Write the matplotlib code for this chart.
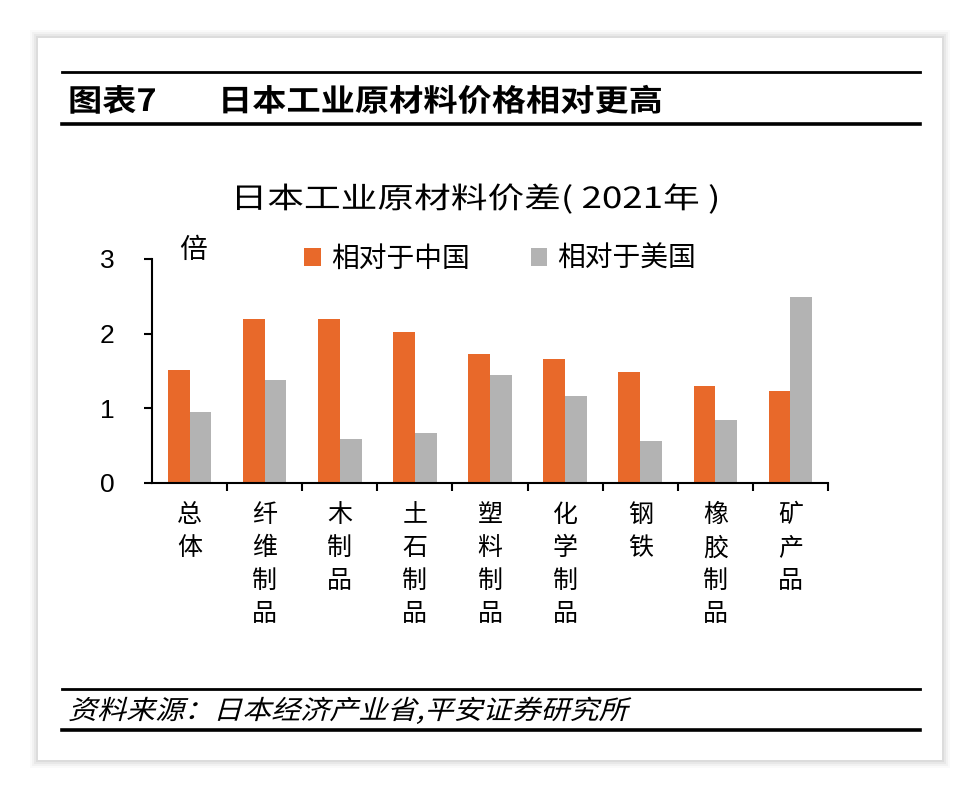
import matplotlib.pyplot as plt
import numpy as np
from matplotlib.patches import Rectangle, PathPatch
from matplotlib.textpath import TextPath
from matplotlib.font_manager import FontProperties
from matplotlib.transforms import Affine2D

plt.rcParams['font.family'] = ['Noto Sans CJK SC', 'DejaVu Sans']

categories = ['总体', '纤维制品', '木制品', '土石制品', '塑料制品', '化学制品', '钢铁', '橡胶制品', '矿产品']
vs_china = [1.51, 2.20, 2.20, 2.02, 1.73, 1.66, 1.49, 1.30, 1.23]
vs_usa = [0.95, 1.38, 0.59, 0.67, 1.45, 1.16, 0.56, 0.84, 2.49]
series_names = ['相对于中国', '相对于美国']
yticks = [0, 1, 2, 3]

W, H = 980, 798
fig = plt.figure(figsize=(W / 100, H / 100), dpi=100)
fig.patch.set_facecolor('white')

def px(x, y):
    # pixel coords (top-left origin) -> figure fraction
    return x / W, 1 - y / H

def path_text(s, x, y, size, sx=1.0, skew=0.0, weight='normal', width=None):
    # text drawn as a path so it can be stretched / slanted; (x, y) = left baseline in px
    # if width is given, x is the centre and the text is stretched to that pixel width
    fp = FontProperties(family='Noto Sans CJK SC', weight=weight)
    tp = TextPath((0, 0), s, size=size, prop=fp)
    if width is not None:
        ext = tp.get_extents()
        sx = width / (ext.width / 72 * 100)
        x = x - width / 2 - ext.x0 / 72 * 100 * sx
    tr = (Affine2D().skew_deg(skew, 0).scale(sx / 72, 1 / 72)
          .translate(x / 100, (H - y) / 100) + fig.dpi_scale_trans)
    fig.patches.append(PathPatch(tp, transform=tr, facecolor='black', edgecolor='none', zorder=3))

# card shadow + card
for i, a in enumerate([0.02, 0.03, 0.04, 0.05]):
    d = 8 - 2 * i
    x0, y0 = px(38 - d, 760 + d)
    fig.patches.append(Rectangle((x0, y0), (904 + 2 * d) / W, (722 + 2 * d) / H,
                                 transform=fig.transFigure, facecolor='black',
                                 alpha=a, edgecolor='none', zorder=0))
x0, y0 = px(38, 760)
fig.patches.append(Rectangle((x0, y0), 904 / W, 722 / H, transform=fig.transFigure,
                             facecolor='white', edgecolor='none', zorder=1))

# header / footer rules
for yy, lw in [(72, 2.0), (124, 2.6), (689, 2.0), (730, 2.6)]:
    fig.add_artist(plt.Line2D([62 / W, 920 / W], [1 - yy / H] * 2, color='black',
                              lw=lw, transform=fig.transFigure, zorder=2))

path_text('图表7', 68, 111, 22, sx=1.12, weight='bold')
path_text('日本工业原材料价格相对更高', 218, 111, 22, sx=1.12, weight='bold')
path_text('资料来源：日本经济产业省,平安证券研究所', 68, 719, 19, sx=1.1, skew=14)
path_text('日本工业原材料价差( 2021年 )', 477, 208, 21, width=480)

ax = fig.add_axes([152 / W, 1 - 483 / H, 676 / W, 224 / H])
ax.set_zorder(3)
ax.patch.set_alpha(0)
x = np.arange(len(categories))
bw = 0.29
ax.bar(x - bw / 2, vs_china, width=bw, color='#E8692A', label=series_names[0])
ax.bar(x + bw / 2, vs_usa, width=bw, color='#B3B3B3', label=series_names[1])

ax.set_xlim(-0.5, len(categories) - 0.5)
ax.set_ylim(0, 3)
ax.set_yticks(yticks)
ax.set_yticklabels([str(v) for v in yticks], fontsize=19, family='Liberation Sans')
ax.tick_params(axis='y', direction='out', length=6, width=1.5, pad=21)
ax.set_xticks(x)
ax.set_xticklabels(['\n'.join(c) for c in categories], fontsize=18, linespacing=1.34, va='top')
ax.set_xticks(np.arange(0.5, len(categories)), minor=True)
ax.tick_params(axis='x', which='major', length=0, pad=14)
ax.tick_params(axis='x', which='minor', direction='out', length=6, width=1.5)
for s in ['top', 'right']:
    ax.spines[s].set_visible(False)
for s in ['left', 'bottom']:
    ax.spines[s].set_linewidth(1.5)

fig.text(*px(193, 250), '倍', fontsize=20, ha='center', va='center', zorder=4)

leg = ax.legend(loc='center', bbox_to_anchor=px(500, 259), bbox_transform=fig.transFigure,
                ncol=2, frameon=False, fontsize=20, handlelength=0.6, handleheight=0.6,
                handletextpad=0.35, columnspacing=2.2)

fig.savefig('out.png', dpi=100)
